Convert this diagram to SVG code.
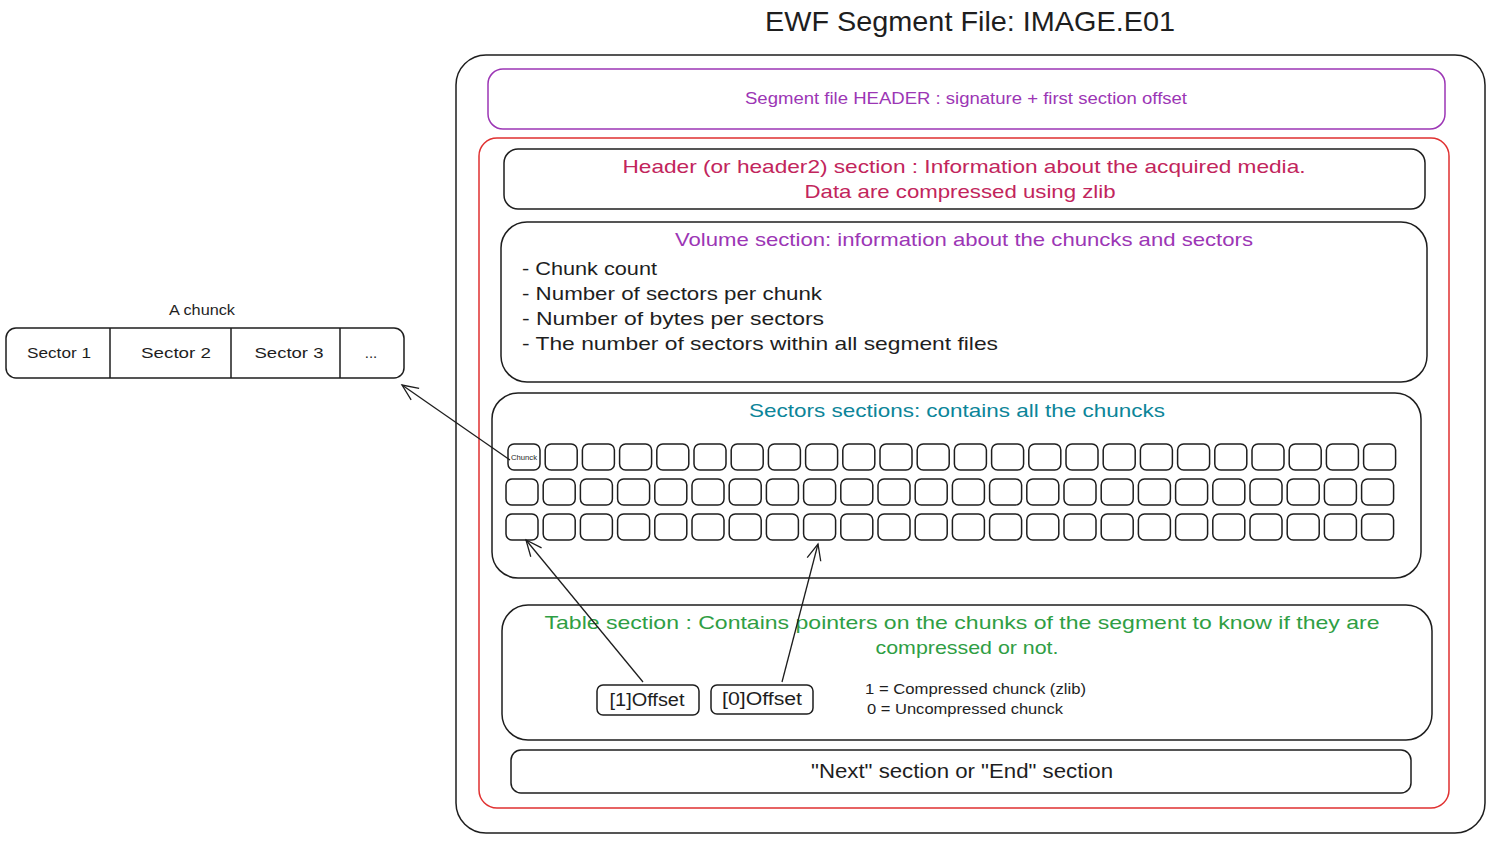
<svg xmlns="http://www.w3.org/2000/svg" xmlns:xlink="http://www.w3.org/1999/xlink" width="1490" height="843" viewBox="0 0 1490 843">
<style>
text{font-family:"Liberation Sans",Arial,sans-serif;}
.box{fill:none;stroke:#1e1e1e;stroke-width:1.5;}
.cb{fill:#fff;stroke:#1e1e1e;stroke-width:1.5;}
.t{fill:#1e1e1e;}
.c{text-anchor:middle;}
.conn{fill:none;stroke:#1e1e1e;stroke-width:1.3;}
</style>
<defs>
<rect id="cbox" class="cb" width="32" height="26" rx="6"/>
<marker id="ah" viewBox="0 0 20 20" refX="18" refY="10" markerWidth="20" markerHeight="20" markerUnits="userSpaceOnUse" orient="auto">
<path d="M2,3 L18,10 L2,17" fill="none" stroke="#1e1e1e" stroke-width="1.3"/>
</marker>
</defs>
<rect width="1490" height="843" fill="#fff"/>

<g id="title">
<text x="970" y="31" class="c t" font-size="28" textLength="410" lengthAdjust="spacingAndGlyphs">EWF Segment File: IMAGE.E01</text>
</g>

<g id="segment-file">
<rect class="box" x="456" y="55" width="1029" height="778" rx="30"/>
</g>

<g id="segment-header">
<rect x="488" y="69" width="957" height="60" rx="15" fill="none" stroke="#9c36b5" stroke-width="1.5"/>
<text x="966" y="104" class="c" fill="#9c36b5" font-size="16" textLength="442" lengthAdjust="spacingAndGlyphs">Segment file HEADER : signature + first section offset</text>
</g>

<g id="sections">
<rect x="479" y="138" width="970" height="670" rx="18" fill="none" stroke="#e03131" stroke-width="1.5"/>
</g>

<g id="header-section">
<rect class="box" x="504" y="149" width="921" height="60" rx="14"/>
<text x="964" y="173" class="c" fill="#c2255c" font-size="19" textLength="683" lengthAdjust="spacingAndGlyphs">Header (or header2) section : Information about the acquired media.</text>
<text x="960" y="198" class="c" fill="#c2255c" font-size="19" textLength="311" lengthAdjust="spacingAndGlyphs">Data are compressed using zlib</text>
</g>

<g id="volume-section">
<rect class="box" x="501" y="222" width="926" height="160" rx="26"/>
<text x="964" y="246" class="c" fill="#9c36b5" font-size="19" textLength="578" lengthAdjust="spacingAndGlyphs">Volume section: information about the chuncks and sectors</text>
<text x="522" y="275" class="t" font-size="19" textLength="135" lengthAdjust="spacingAndGlyphs">- Chunk count</text>
<text x="522" y="300" class="t" font-size="19" textLength="300" lengthAdjust="spacingAndGlyphs">- Number of sectors per chunk</text>
<text x="522" y="325" class="t" font-size="19" textLength="302" lengthAdjust="spacingAndGlyphs">- Number of bytes per sectors</text>
<text x="522" y="350" class="t" font-size="19" textLength="476" lengthAdjust="spacingAndGlyphs">- The number of sectors within all segment files</text>
</g>

<g id="sectors-section">
<rect class="box" x="492" y="393" width="929" height="185" rx="26"/>
<text x="957" y="417" class="c" fill="#0c8599" font-size="19" textLength="416" lengthAdjust="spacingAndGlyphs">Sectors sections: contains all the chuncks</text>
</g>

<g id="chunk-grid">
<g id="row1">
<use href="#cbox" x="508" y="444"/><use href="#cbox" x="545.2" y="444"/><use href="#cbox" x="582.4" y="444"/><use href="#cbox" x="619.6" y="444"/><use href="#cbox" x="656.8" y="444"/><use href="#cbox" x="694" y="444"/><use href="#cbox" x="731.2" y="444"/><use href="#cbox" x="768.4" y="444"/><use href="#cbox" x="805.6" y="444"/><use href="#cbox" x="842.8" y="444"/><use href="#cbox" x="880" y="444"/><use href="#cbox" x="917.2" y="444"/><use href="#cbox" x="954.4" y="444"/><use href="#cbox" x="991.6" y="444"/><use href="#cbox" x="1028.8" y="444"/><use href="#cbox" x="1066" y="444"/><use href="#cbox" x="1103.2" y="444"/><use href="#cbox" x="1140.4" y="444"/><use href="#cbox" x="1177.6" y="444"/><use href="#cbox" x="1214.8" y="444"/><use href="#cbox" x="1252" y="444"/><use href="#cbox" x="1289.2" y="444"/><use href="#cbox" x="1326.4" y="444"/><use href="#cbox" x="1363.6" y="444"/>
</g>
<g id="row2">
<use href="#cbox" x="506" y="479"/><use href="#cbox" x="543.2" y="479"/><use href="#cbox" x="580.4" y="479"/><use href="#cbox" x="617.6" y="479"/><use href="#cbox" x="654.8" y="479"/><use href="#cbox" x="692" y="479"/><use href="#cbox" x="729.2" y="479"/><use href="#cbox" x="766.4" y="479"/><use href="#cbox" x="803.6" y="479"/><use href="#cbox" x="840.8" y="479"/><use href="#cbox" x="878" y="479"/><use href="#cbox" x="915.2" y="479"/><use href="#cbox" x="952.4" y="479"/><use href="#cbox" x="989.6" y="479"/><use href="#cbox" x="1026.8" y="479"/><use href="#cbox" x="1064" y="479"/><use href="#cbox" x="1101.2" y="479"/><use href="#cbox" x="1138.4" y="479"/><use href="#cbox" x="1175.6" y="479"/><use href="#cbox" x="1212.8" y="479"/><use href="#cbox" x="1250" y="479"/><use href="#cbox" x="1287.2" y="479"/><use href="#cbox" x="1324.4" y="479"/><use href="#cbox" x="1361.6" y="479"/>
</g>
<g id="row3">
<use href="#cbox" x="506" y="514"/><use href="#cbox" x="543.2" y="514"/><use href="#cbox" x="580.4" y="514"/><use href="#cbox" x="617.6" y="514"/><use href="#cbox" x="654.8" y="514"/><use href="#cbox" x="692" y="514"/><use href="#cbox" x="729.2" y="514"/><use href="#cbox" x="766.4" y="514"/><use href="#cbox" x="803.6" y="514"/><use href="#cbox" x="840.8" y="514"/><use href="#cbox" x="878" y="514"/><use href="#cbox" x="915.2" y="514"/><use href="#cbox" x="952.4" y="514"/><use href="#cbox" x="989.6" y="514"/><use href="#cbox" x="1026.8" y="514"/><use href="#cbox" x="1064" y="514"/><use href="#cbox" x="1101.2" y="514"/><use href="#cbox" x="1138.4" y="514"/><use href="#cbox" x="1175.6" y="514"/><use href="#cbox" x="1212.8" y="514"/><use href="#cbox" x="1250" y="514"/><use href="#cbox" x="1287.2" y="514"/><use href="#cbox" x="1324.4" y="514"/><use href="#cbox" x="1361.6" y="514"/>
</g>
<text x="524" y="460" class="c t" font-size="7" textLength="26" lengthAdjust="spacingAndGlyphs">Chunck</text>
</g>

<g id="table-section">
<rect class="box" x="502" y="605" width="930" height="135" rx="26"/>
<text x="962" y="629" class="c" fill="#2f9e44" font-size="19" textLength="835" lengthAdjust="spacingAndGlyphs">Table section : Contains pointers on the chunks of the segment to know if they are</text>
<text x="967" y="654" class="c" fill="#2f9e44" font-size="19" textLength="183" lengthAdjust="spacingAndGlyphs">compressed or not.</text>
<text x="865" y="694" class="t" font-size="15" textLength="221" lengthAdjust="spacingAndGlyphs">1 = Compressed chunck (zlib)</text>
<text x="867" y="714" class="t" font-size="15" textLength="196" lengthAdjust="spacingAndGlyphs">0 = Uncompressed chunck</text>
</g>

<g id="offset-1">
<rect class="cb" x="597" y="685" width="102" height="30" rx="6"/>
<text x="647" y="706" class="c t" font-size="18" textLength="75" lengthAdjust="spacingAndGlyphs">[1]Offset</text>
</g>

<g id="offset-0">
<rect class="cb" x="711" y="685" width="102" height="29" rx="6"/>
<text x="762" y="705" class="c t" font-size="18" textLength="80" lengthAdjust="spacingAndGlyphs">[0]Offset</text>
</g>

<g id="next-section">
<rect class="box" x="511" y="750" width="900" height="43" rx="10"/>
<text x="962" y="778" class="c t" font-size="20" textLength="302" lengthAdjust="spacingAndGlyphs">"Next" section or "End" section</text>
</g>

<g id="a-chunk">
<text x="202" y="315" class="c t" font-size="15" textLength="66" lengthAdjust="spacingAndGlyphs">A chunck</text>
<rect class="box" x="6" y="328" width="398" height="50" rx="10"/>
<line class="box" x1="110" y1="328" x2="110" y2="378"/>
<line class="box" x1="231" y1="328" x2="231" y2="378"/>
<line class="box" x1="340" y1="328" x2="340" y2="378"/>
<text x="59" y="358" class="c t" font-size="15" textLength="64" lengthAdjust="spacingAndGlyphs">Sector 1</text>
<text x="176" y="358" class="c t" font-size="15" textLength="70" lengthAdjust="spacingAndGlyphs">Sector 2</text>
<text x="289" y="358" class="c t" font-size="15" textLength="69" lengthAdjust="spacingAndGlyphs">Sector 3</text>
<text x="371" y="358" class="c t" font-size="15">...</text>
</g>

<g id="connectors">
<line class="conn" x1="510" y1="460" x2="402" y2="385" marker-end="url(#ah)"/>
<line class="conn" x1="643" y1="682" x2="526" y2="540" marker-end="url(#ah)"/>
<line class="conn" x1="782" y1="682" x2="818" y2="544" marker-end="url(#ah)"/>
</g>
</svg>
